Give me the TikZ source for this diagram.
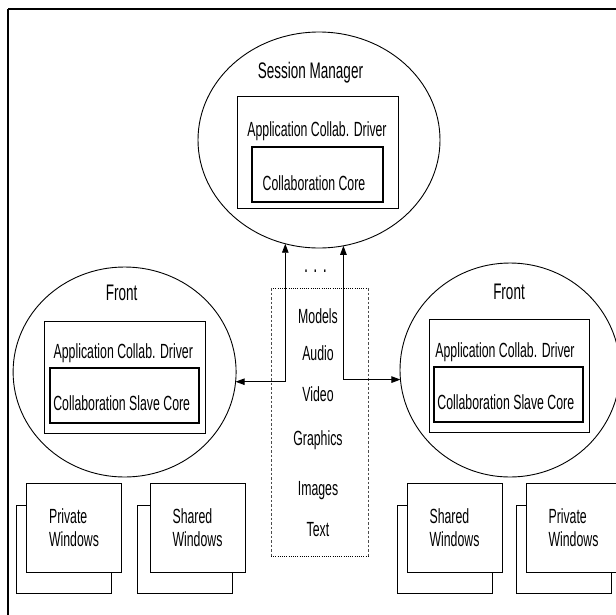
\documentclass[tikz,border=0pt]{standalone}
\usepackage{fontspec}
\newfontfamily\narrowsf{Liberation Sans}[FakeStretch=0.6]
\usetikzlibrary{shapes.geometric,arrows.meta}

\begin{document}
\begin{tikzpicture}[x=1pt,y=-1pt,
  every node/.style={inner sep=0pt,outer sep=0pt},
  txt/.style={font=\narrowsf\fontsize{20.5}{23.3}\selectfont,anchor=base},
  bigtxt/.style={font=\narrowsf\fontsize{22.5}{25}\selectfont,anchor=base},
  site/.style={draw,ellipse,line width=0.9pt},
  outerbox/.style={draw,rectangle,line width=0.9pt},
  innerbox/.style={draw,rectangle,line width=1.3pt},
  winback/.style={draw,rectangle,fill=white,line width=0.9pt,minimum width=95pt,minimum height=88pt},
  winfront/.style={draw,rectangle,fill=white,line width=1pt,minimum width=95pt,minimum height=89pt,
    align=left,font=\narrowsf\fontsize{20.5}{23.3}\selectfont},
  link/.style={line width=0.9pt,{Triangle[length=9pt,width=6.5pt]}-{Triangle[length=9pt,width=6.5pt]}}
]
\clip (0,0) rectangle (616,614);
\fill[white] (0,0) rectangle (616,614);

% outer frame (top and left edges)
\draw[line width=2.2pt] (8,9) -- (620,9);
\draw[line width=1.3pt] (8,9) -- (8,620);

% session manager
\node[site,minimum width=242pt,minimum height=216pt] (sm) at (319,140) {};
\node[bigtxt] (smlbl) at (310.5,78) {Session Manager};
\node[outerbox,minimum width=161pt,minimum height=112pt] (smdrv) at (317.5,152) {};
\node[txt] (smdrvlbl) at (317,136.5) {Application Collab. Driver};
\node[innerbox,minimum width=131pt,minimum height=55pt] (smcore) at (317.5,174.5) {};
\node[txt] (smcorelbl) at (314,190) {Collaboration Core};

% left front
\node[site,minimum width=223pt,minimum height=210pt] (fl) at (124.6,372) {};
\node[bigtxt] (fllbl) at (121.7,300) {Front};
\node[outerbox,minimum width=161pt,minimum height=112pt] (fldrv) at (124.5,377) {};
\node[txt] (fldrvlbl) at (123.3,358) {Application Collab. Driver};
\node[innerbox,minimum width=149pt,minimum height=55pt] (flcore) at (124.5,395.5) {};
\node[txt] (flcorelbl) at (121.7,410) {Collaboration Slave Core};

% right front
\node[site,minimum width=220pt,minimum height=214pt] (fr) at (510,370) {};
\node[bigtxt] (frlbl) at (509,299) {Front};
\node[outerbox,minimum width=160pt,minimum height=113pt] (frdrv) at (509,375.5) {};
\node[txt] (frdrvlbl) at (505,357) {Application Collab. Driver};
\node[innerbox,minimum width=149pt,minimum height=55pt] (frcore) at (508.5,394.5) {};
\node[txt] (frcorelbl) at (505.8,409) {Collaboration Slave Core};

% media box
\coordinate (mtl) at (271,288);
\coordinate (mbr) at (368,556);
\draw[line width=1pt,dash pattern=on 1pt off 1.2pt] (mtl) -- (mtl -| mbr);
\draw[line width=1pt,dash pattern=on 1pt off 1.2pt] (mtl |- mbr) -- (mbr);
\draw[line width=0.9pt,black!70,dash pattern=on 2.5pt off 2pt] (mtl) -- (mtl |- mbr);
\draw[line width=0.9pt,black!70,dash pattern=on 2.5pt off 2pt] (mtl -| mbr) -- (mbr);
\node[font=\narrowsf\fontsize{24}{26}\selectfont,anchor=base] (more) at (315.5,272) {. . .};
\node[txt] (models) at (318,323) {Models};
\node[txt] (audio) at (318,360) {Audio};
\node[txt] (video) at (318,401.5) {Video};
\node[txt] (graphics) at (318,445) {Graphics};
\node[txt] (images) at (318,495) {Images};
\node[txt] (text) at (318,536.5) {Text};

% links between the sites
\draw[link] (sm.252.9) |- (fl.-5.7);
\draw[link] (sm.283.3) |- (fr.185.2);

% window stacks
\node[winback] (plback) at (63.5,549) {};
\node[winfront] (pl) at (74,527.5) {Private\\Windows};
\node[winback] (slback) at (184.5,549) {};
\node[winfront] (sl) at (197.5,527.5) {Shared\\Windows};
\node[winback] (srback) at (445,549) {};
\node[winfront] (sr) at (454.5,527.5) {Shared\\Windows};
\node[winback] (prback) at (564,549) {};
\node[winfront] (pr) at (573.5,527.5) {Private\\Windows};
\end{tikzpicture}
\end{document}
